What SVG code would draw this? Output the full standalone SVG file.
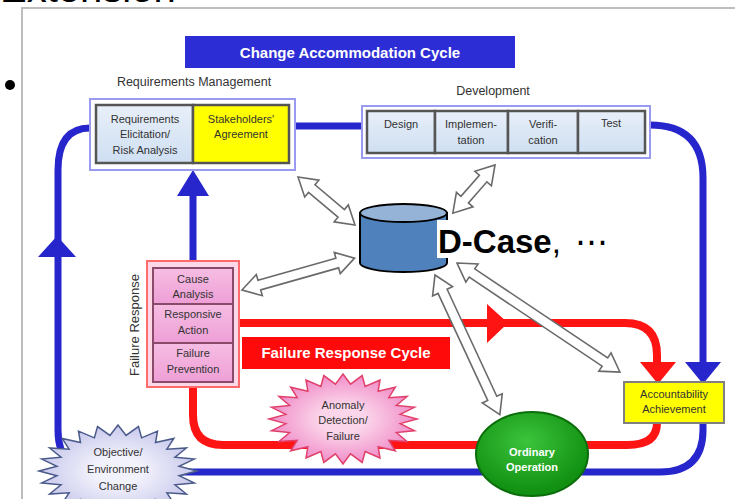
<svg xmlns="http://www.w3.org/2000/svg" xmlns:xlink="http://www.w3.org/1999/xlink" width="735" height="499" viewBox="0 0 735 499">
<style>
  .t { font-family: "Liberation Sans", Arial, sans-serif; fill: #333; text-anchor: middle; }
  .s11 { font-size: 11px; }
  .s12 { font-size: 12.5px; }
  .wb { font-family: "Liberation Sans", Arial, sans-serif; font-weight: bold; fill: #fff; text-anchor: middle; }
  .blue { stroke: #2626cc; stroke-width: 7; fill: none; }
  .red { stroke: #ff1414; stroke-width: 8; fill: none; }
  .cellb { fill: url(#gBlue); stroke: #555; stroke-width: 2.5; }
  .cellp { fill: url(#gPink); stroke: #8a4a6a; stroke-width: 2; }
  .dbl { fill: #fff; stroke: #6a6a6a; stroke-width: 1.6; stroke-linejoin: miter; }
</style>
<defs>
  <linearGradient id="gBlue" x1="0" y1="0" x2="0" y2="1">
    <stop offset="0" stop-color="#e8eff9"/><stop offset="1" stop-color="#cfdff2"/>
  </linearGradient>
  <linearGradient id="gPink" x1="0" y1="0" x2="0" y2="1">
    <stop offset="0" stop-color="#f6bde3"/><stop offset="1" stop-color="#ee9fd6"/>
  </linearGradient>
  <radialGradient id="gStarPink" cx="0.5" cy="0.5" r="0.5">
    <stop offset="0.3" stop-color="#fbd6ea"/><stop offset="1" stop-color="#f08cc8"/>
  </radialGradient>
  <radialGradient id="gStarBlue" cx="0.5" cy="0.5" r="0.5">
    <stop offset="0.3" stop-color="#f2f2fc"/><stop offset="1" stop-color="#c8c8ec"/>
  </radialGradient>
  <radialGradient id="gGreen" cx="0.45" cy="0.35" r="0.6">
    <stop offset="0" stop-color="#3cc43c"/><stop offset="1" stop-color="#119011"/>
  </radialGradient>
  <polygon id="star" vector-effect="non-scaling-stroke" points="100,0 77.3,10.2 96.6,25.9 72.1,29.9 86.6,50 61.9,47.5 70.7,70.7 47.5,61.9 50,86.6 29.9,72.1 25.9,96.6 10.2,77.3 0,100 -10.2,77.3 -25.9,96.6 -29.9,72.1 -50,86.6 -47.5,61.9 -70.7,70.7 -61.9,47.5 -86.6,50 -72.1,29.9 -96.6,25.9 -77.3,10.2 -100,0 -77.3,-10.2 -96.6,-25.9 -72.1,-29.9 -86.6,-50 -61.9,-47.5 -70.7,-70.7 -47.5,-61.9 -50,-86.6 -29.9,-72.1 -25.9,-96.6 -10.2,-77.3 0,-100 10.2,-77.3 25.9,-96.6 29.9,-72.1 50,-86.6 47.5,-61.9 70.7,-70.7 61.9,-47.5 86.6,-50 72.1,-29.9 96.6,-25.9 77.3,-10.2"/>
</defs>

<rect x="0" y="0" width="735" height="499" fill="#fff"/>

<!-- slide fragments -->
<g id="slide">
  <text x="0" y="2" font-family="Liberation Sans, Arial, sans-serif" font-size="40" fill="#000">Extension</text>
  <circle cx="10" cy="85" r="5" fill="#000"/>
  <path d="M22,499 L22,8 L735,8" fill="none" stroke="#bdbdbd" stroke-width="2"/>
</g>

<!-- connectors -->
<g id="connectors">
  <!-- blue change accommodation cycle -->
  <path class="blue" d="M295,126 L362,126"/>
  <path class="blue" d="M650,125 Q703,125 703,178 L703,364"/>
  <polygon fill="#2626cc" points="685,362 721,362 703,384"/>
  <path class="blue" d="M703,423 L703,430 Q703,472 660,472 L100,472 Q58,472 58,430 L58,170 Q58,128 90,128"/>
  <polygon fill="#2626cc" points="38,257 76,257 57,236"/>
  <path class="blue" d="M193,262 L193,192"/>
  <polygon fill="#2626cc" points="177,196 209,196 193,170"/>
  <!-- red failure response cycle -->
  <path class="red" d="M238,323 L625,323 Q657,323 657,355 L657,364"/>
  <polygon fill="#ff1414" points="640,362 676,362 658,384"/>
  <polygon fill="#ff1414" points="487,304 487,343 508,323"/>
  <path class="red" d="M193,386 L193,415 Q193,445 223,445 L627,445 Q657,445 657,423"/>
  <!-- hollow double arrows -->
  <polygon class="dbl" transform="translate(298,177) rotate(40.1)" points="0,0 18,-11 18,-5 56.5,-5 56.5,-11 74.5,0 56.5,11 56.5,5 18,5 18,11"/>
  <polygon class="dbl" transform="translate(495,165) rotate(131.2)" points="0,0 18,-11 18,-5 46,-5 46,-11 64,0 46,11 46,5 18,5 18,11"/>
  <polygon class="dbl" transform="translate(242,290) rotate(-15.8)" points="0,0 18,-11 18,-5 99,-5 99,-11 117,0 99,11 99,5 18,5 18,11"/>
  <polygon class="dbl" transform="translate(435,275) rotate(65.1)" points="0,0 18,-11 18,-5 136,-5 136,-11 154,0 136,11 136,5 18,5 18,11"/>
  <polygon class="dbl" transform="translate(457,263) rotate(33.8)" points="0,0 18,-11 18,-5 178,-5 178,-11 196,0 178,11 178,5 18,5 18,11"/>
</g>

<g id="change-cycle-label">
  <rect x="185" y="36" width="330" height="32" fill="#2d2dd6"/>
  <text class="wb" x="350" y="58" font-size="15">Change Accommodation Cycle</text>
</g>

<g id="requirements">
  <text class="t s12" x="194" y="86">Requirements Management</text>
  <rect x="90" y="99" width="205" height="71" fill="#fff" stroke="#9a9af0" stroke-width="2"/>
  <rect class="cellb" x="96" y="105" width="97" height="58"/>
  <rect x="193" y="105" width="96" height="58" fill="#ffff00" stroke="#555" stroke-width="2.5"/>
  <text class="t s11" x="145" y="123">Requirements</text>
  <text class="t s11" x="145" y="138">Elicitation/</text>
  <text class="t s11" x="145" y="154">Risk Analysis</text>
  <text class="t s11" x="241" y="123">Stakeholders'</text>
  <text class="t s11" x="241" y="138">Agreement</text>
</g>

<g id="development">
  <text class="t s12" x="493" y="95">Development</text>
  <rect x="362" y="106" width="288" height="52" fill="#fff" stroke="#9a9af0" stroke-width="2"/>
  <rect class="cellb" x="367" y="111" width="68" height="42"/>
  <rect class="cellb" x="435" y="111" width="73" height="42"/>
  <rect class="cellb" x="508" y="111" width="70" height="42"/>
  <rect class="cellb" x="578" y="111" width="67" height="42"/>
  <text class="t s11" x="401" y="128">Design</text>
  <text class="t s11" x="471" y="128">Implemen-</text>
  <text class="t s11" x="471" y="144">tation</text>
  <text class="t s11" x="543" y="128">Verifi-</text>
  <text class="t s11" x="543" y="144">cation</text>
  <text class="t s11" x="611" y="127">Test</text>
</g>

<g id="failure-response">
  <text class="t" font-size="13" transform="translate(139,325) rotate(-90)">Failure Response</text>
  <rect x="147" y="261" width="92" height="126" fill="#fbd7e8" stroke="#ff6a6a" stroke-width="2"/>
  <rect class="cellp" x="153" y="268" width="80" height="36"/>
  <rect class="cellp" x="153" y="304" width="80" height="39"/>
  <rect class="cellp" x="153" y="343" width="80" height="39"/>
  <text class="t s11" x="193" y="283">Cause</text>
  <text class="t s11" x="193" y="298">Analysis</text>
  <text class="t s11" x="193" y="318">Responsive</text>
  <text class="t s11" x="193" y="334">Action</text>
  <text class="t s11" x="193" y="357">Failure</text>
  <text class="t s11" x="193" y="373">Prevention</text>
</g>

<g id="failure-cycle-label">
  <rect x="242" y="337" width="208" height="32" fill="#ff0a0a"/>
  <text class="wb" x="346" y="358" font-size="15">Failure Response Cycle</text>
</g>

<g id="dcase">
  <path d="M360,213 L360,263 A43.5,9 0 0 0 447,263 L447,213 Z" fill="#4f81bd" stroke="#000" stroke-width="2"/>
  <ellipse cx="403.5" cy="213" rx="43.5" ry="9" fill="#95b3d7" stroke="#000" stroke-width="2"/>
  <rect x="437" y="220" width="120" height="38" fill="#fff"/>
  <text x="438" y="253" font-family="Liberation Sans, DejaVu Sans, sans-serif" font-size="33" fill="#000"><tspan font-weight="bold">D-Case</tspan>,<tspan dx="14">⋯</tspan></text>
</g>

<g id="accountability">
  <rect x="624" y="382" width="100" height="41" fill="#ffff00" stroke="#808080" stroke-width="2"/>
  <text class="t s11" x="674" y="398">Accountability</text>
  <text class="t s11" x="674" y="413">Achievement</text>
</g>

<g id="anomaly">
  <use xlink:href="#star" transform="translate(343,419) scale(0.74,0.45)" fill="url(#gStarPink)" stroke="#e0406a" stroke-width="1.5"/>
  <text class="t s11" x="343" y="409">Anomaly</text>
  <text class="t s11" x="343" y="424">Detection/</text>
  <text class="t s11" x="343" y="440">Failure</text>
</g>

<g id="ordinary">
  <ellipse cx="532" cy="454" rx="56" ry="42" fill="url(#gGreen)" stroke="#0b6e0b" stroke-width="2"/>
  <text class="wb" x="532" y="456" font-size="11">Ordinary</text>
  <text class="wb" x="532" y="471" font-size="11">Operation</text>
</g>

<g id="objective">
  <use xlink:href="#star" transform="translate(118,471) scale(0.79,0.46)" fill="url(#gStarBlue)" stroke="#4a5a8a" stroke-width="1.5"/>
  <text class="t s11" x="118" y="456">Objective/</text>
  <text class="t s11" x="118" y="473">Environment</text>
  <text class="t s11" x="118" y="490">Change</text>
</g>
</svg>
